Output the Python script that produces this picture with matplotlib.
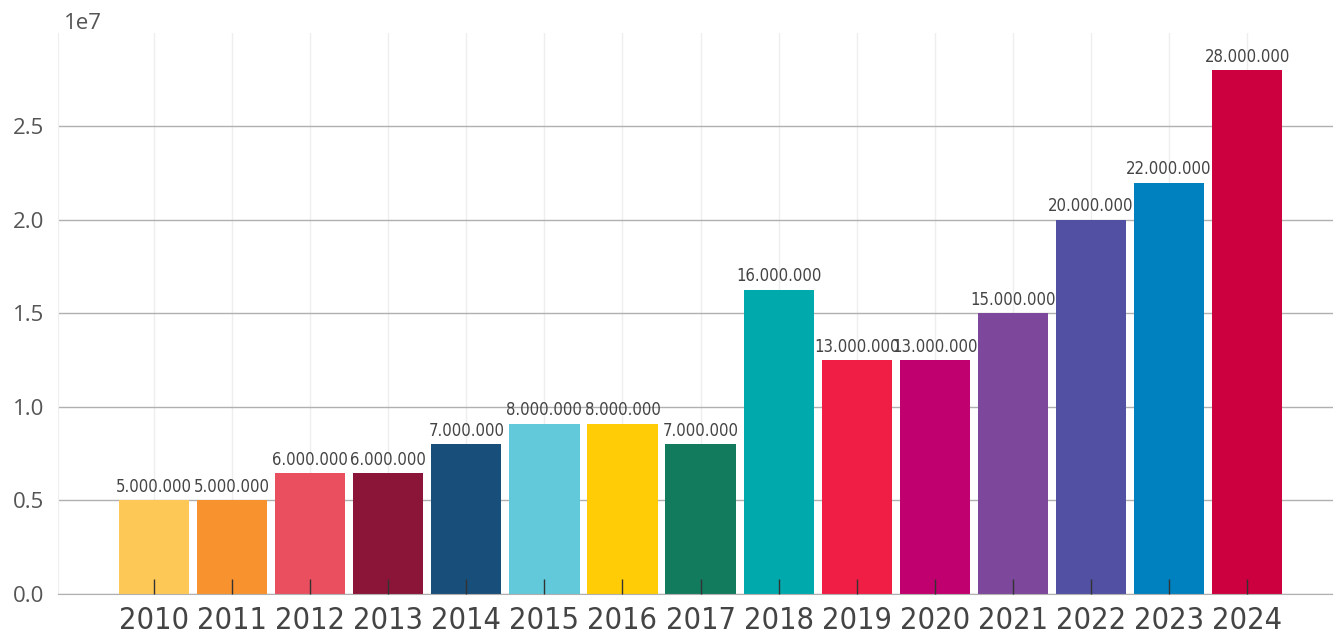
import matplotlib.pyplot as plt
from matplotlib import font_manager

years = ['2010', '2011', '2012', '2013', '2014', '2015', '2016', '2017',
         '2018', '2019', '2020', '2021', '2022', '2023', '2024']
heights = [5.0e6, 5.0e6, 6.45e6, 6.45e6, 8.0e6, 9.1e6, 9.1e6, 8.0e6,
           16.25e6, 12.5e6, 12.5e6, 15.0e6, 20.0e6, 22.0e6, 28.0e6]
labels = ['5.000.000', '5.000.000', '6.000.000', '6.000.000', '7.000.000',
          '8.000.000', '8.000.000', '7.000.000', '16.000.000', '13.000.000',
          '13.000.000', '15.000.000', '20.000.000', '22.000.000', '28.000.000']
colors = ['#FEC856', '#F8922F', '#E94F5E', '#8B1538', '#184E7A', '#61C9D9',
          '#FFCC05', '#127B5E', '#00A9AC', '#F01E45', '#C0006E', '#7D479B',
          '#5150A3', '#0081BF', '#CD003F']

# look for a narrow face, else fall back to Roboto
narrow = None
for f in font_manager.fontManager.ttflist:
    nm = (f.name + ' ' + f.fname).lower()
    if ('condensed' in nm or 'narrow' in nm or 'condensed' in str(f.stretch)) \
            and f.style == 'normal' and f.weight in (400, 'normal', 'regular') \
            and 'mono' not in nm and 'bold' not in nm:
        narrow = f.fname
        break

if narrow:
    cond = font_manager.FontProperties(fname=narrow)
    xsize, vsize = 22, 12
else:
    cond = font_manager.FontProperties(family='Roboto')
    xsize, vsize = 19, 10

fig = plt.figure(figsize=(13.33, 6.35), dpi=100)
ax = fig.add_axes([0.0435, 0.0646, 0.9565, 0.8835])

x = list(range(len(years)))
ax.bar(x, heights, width=0.9, color=colors, zorder=2)

for xi, h, lab in zip(x, heights, labels):
    ax.text(xi, h + 2.5e5, lab, ha='center', va='bottom', fontproperties=cond,
            fontsize=vsize, color='#444444', zorder=3)

# small tick marks standing up inside the bars
ax.plot(x, [0] * len(x), ls='none', marker=2, markersize=11,
        markeredgewidth=1, color='#333333', zorder=5, clip_on=False)

ax.set_xlim(-1.23, 15.1)
ax.set_ylim(0, 3.0e7)
ax.set_yticks([0, 0.5e7, 1.0e7, 1.5e7, 2.0e7, 2.5e7])
ax.set_xticks(x)
ax.set_xticklabels(years, fontproperties=cond, fontsize=xsize, color='#444444')

ax.yaxis.grid(True, color='#b0b0b0', linewidth=1)
ax.xaxis.grid(True, color='#eeeeee', linewidth=1)
ax.set_axisbelow(True)

ax.tick_params(axis='x', length=0, pad=9)
ax.tick_params(axis='y', length=0, labelsize=16, labelcolor='#555555', pad=10)
for lab in ax.get_yticklabels():
    lab.set_family('Open Sans')
off = ax.yaxis.get_offset_text()
off.set_fontsize(16)
off.set_color('#555555')
off.set_family('Open Sans')
off.set_x(0.005)

for s in ['top', 'right']:
    ax.spines[s].set_visible(False)
ax.spines['left'].set_color('#eeeeee')
ax.spines['bottom'].set_color('#b0b0b0')

fig.savefig('out.png', dpi=100)
